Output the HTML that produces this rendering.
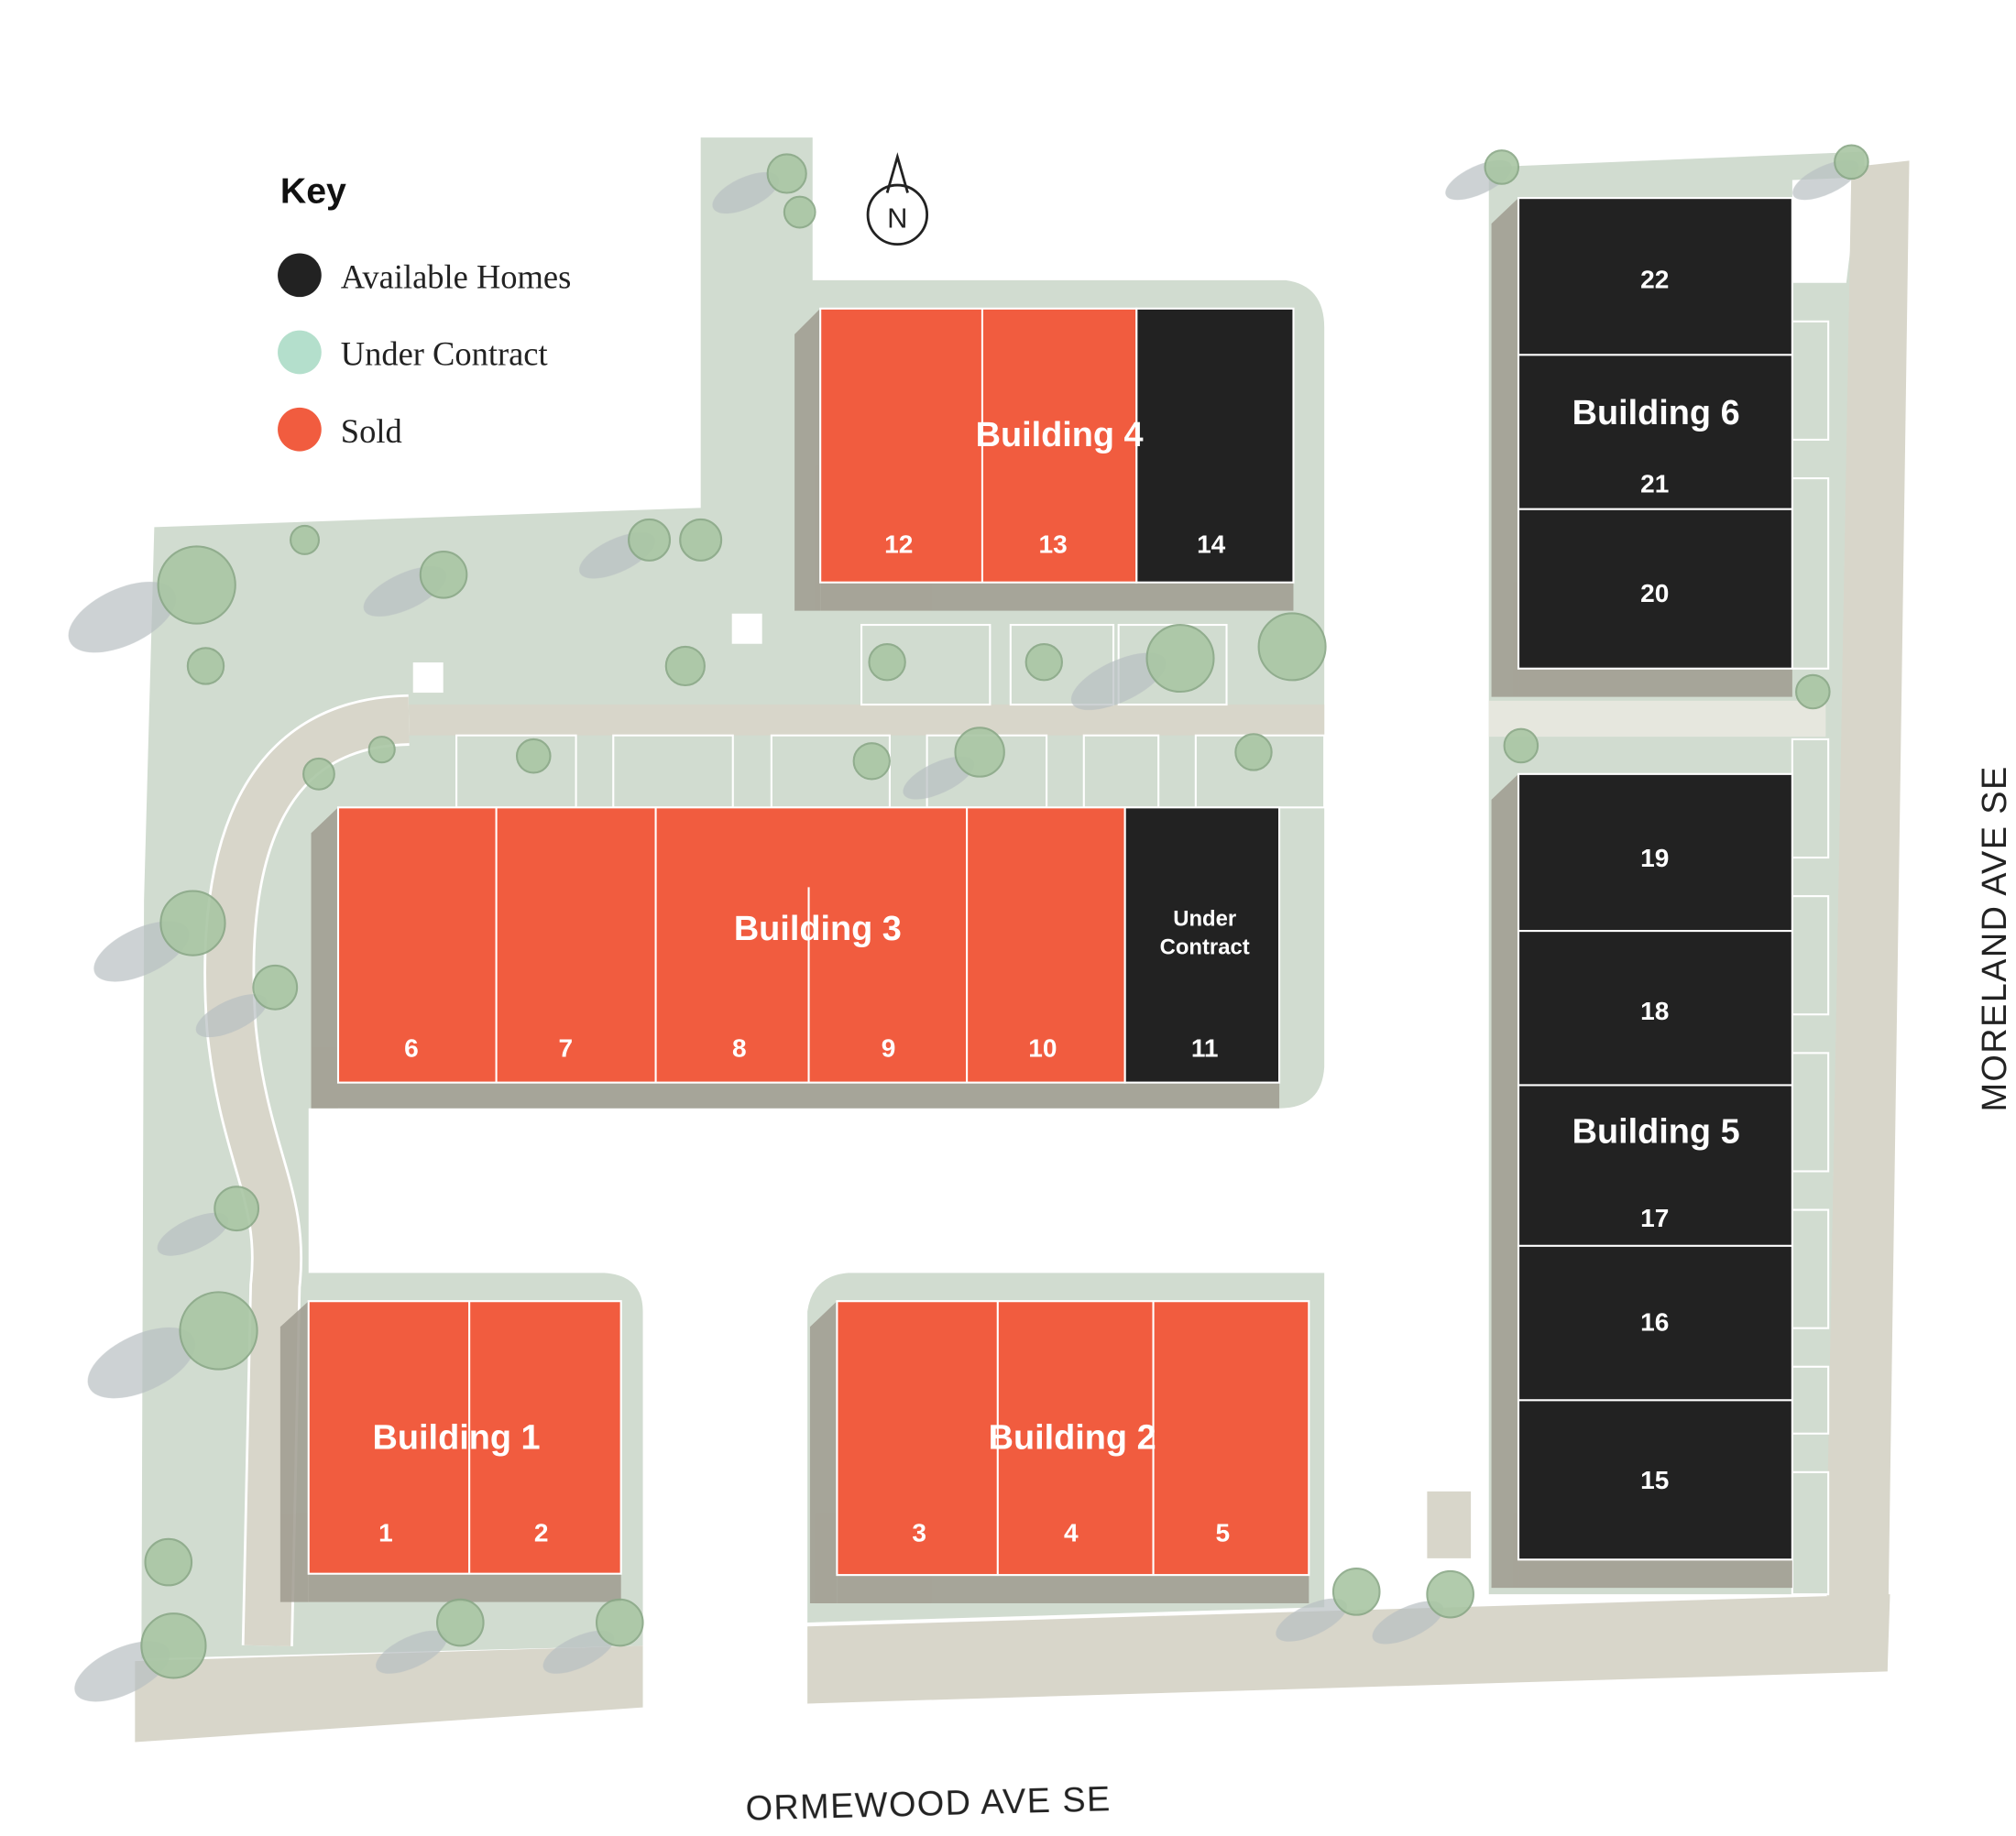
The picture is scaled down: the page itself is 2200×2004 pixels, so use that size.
<!DOCTYPE html>
<html><head><meta charset="utf-8"><style>
html,body{margin:0;padding:0;background:#fff}
svg{display:block}
.bl{font-family:"Liberation Sans",sans-serif;font-weight:bold;fill:#fff;font-size:27px;text-anchor:middle}
.nm{font-family:"Liberation Sans",sans-serif;font-weight:bold;fill:#fff;font-size:20px;text-anchor:middle}
.ky{font-family:"Liberation Serif",serif;font-size:26px;fill:#222}
.st{font-family:"Liberation Sans",sans-serif;font-size:27px;fill:#222;letter-spacing:1px}
</style></head><body>
<svg width="2200" height="2004" viewBox="0 0 1568 1428" preserveAspectRatio="none" xmlns="http://www.w3.org/2000/svg">
<rect width="1568" height="1428" fill="#fff"/>
<path d="M120,410 L545,395 L545,107 L632,107 L632,218 L1000,218 Q1030,222 1030,255 L1030,830 Q1028,862 995,862 L240,862 L240,990 L470,990 Q500,992 500,1020 L500,1280 L110,1290 L112,700 Z" fill="#d1dcd0"/>
<path d="M628,1020 Q632,992 660,990 L1030,990 L1030,1250 L628,1262 Z" fill="#d1dcd0"/>
<path d="M1158,130 L1450,118 L1440,1240 L1158,1240 Z" fill="#d1dcd0"/>
<path d="M1394,140 L1446,138 L1436,220 L1394,220 Z" fill="#fff"/>
<rect x="1158" y="545" width="262" height="28" fill="#e6e7de"/>
<path d="M105,1292 L500,1280 L500,1328 L105,1355 Z" fill="#d8d6ca"/>
<path d="M628,1265 L1470,1240 L1468,1300 L628,1325 Z" fill="#d8d6ca"/>
<path d="M1420,1240 L1440,130 L1485,125 L1468,1300 Z" fill="#d8d6ca"/>
<rect x="1110" y="1160" width="34" height="52" fill="#d8d6ca"/>
<path d="M318,548 L1030,548 L1030,572 L318,572 Z" fill="#d8d6ca"/>
<path d="M318,560 C205,562 170,660 180,800 C190,900 222,930 214,1000 L208,1280" fill="none" stroke="#fff" stroke-width="40"/>
<path d="M318,560 C205,562 170,660 180,800 C190,900 222,930 214,1000 L208,1280" fill="none" stroke="#d8d6ca" stroke-width="36"/>
<g fill="#d1dcd0" stroke="#fff" stroke-width="1.5">
<rect x="355" y="572" width="93" height="56"/><rect x="477" y="572" width="93" height="56"/><rect x="600" y="572" width="92" height="56"/><rect x="721" y="572" width="93" height="56"/><rect x="843" y="572" width="58" height="56"/><rect x="930" y="572" width="100" height="56"/>
<rect x="670" y="486" width="100" height="62"/><rect x="786" y="486" width="80" height="62"/><rect x="870" y="486" width="84" height="62"/>
<rect x="1394" y="250" width="28" height="92"/><rect x="1394" y="372" width="28" height="148"/><rect x="1394" y="575" width="28" height="92"/><rect x="1394" y="697" width="28" height="92"/><rect x="1394" y="819" width="28" height="92"/><rect x="1394" y="941" width="28" height="92"/><rect x="1394" y="1063" width="28" height="52"/><rect x="1394" y="1145" width="28" height="95"/>
<rect x="570" y="478" width="22" height="22" fill="#fff"/><rect x="322" y="516" width="22" height="22" fill="#fff"/>
</g>
<g fill="#9f9b8f" opacity=".85">
<path d="M618,260 L638,240 L638,475 L618,475 Z"/><rect x="638" y="453" width="368" height="22"/>
<path d="M242,648 L263,628 L263,862 L242,862 Z"/><rect x="263" y="842" width="732" height="20"/>
<path d="M218,1032 L240,1012 L240,1246 L218,1246 Z"/><rect x="240" y="1224" width="243" height="22"/>
<path d="M630,1032 L651,1012 L651,1247 L630,1247 Z"/><rect x="651" y="1225" width="367" height="22"/>
<path d="M1160,174 L1181,154 L1181,542 L1160,542 Z"/><rect x="1181" y="520" width="213" height="22"/>
<path d="M1160,622 L1181,602 L1181,1235 L1160,1235 Z"/><rect x="1181" y="1213" width="213" height="22"/>
</g>
<g stroke="#fff" stroke-width="1.5">
<rect x="638" y="240" width="246" height="213" fill="#f15c3f"/><rect x="884" y="240" width="122" height="213" fill="#222"/>
<line x1="764" y1="240" x2="764" y2="453"/>
<rect x="263" y="628" width="612" height="214" fill="#f15c3f"/><rect x="875" y="628" width="120" height="214" fill="#222"/>
<line x1="386" y1="628" x2="386" y2="842"/><line x1="510" y1="628" x2="510" y2="842"/><line x1="629" y1="690" x2="629" y2="842"/><line x1="752" y1="628" x2="752" y2="842"/>
<rect x="240" y="1012" width="243" height="212" fill="#f15c3f"/><line x1="365" y1="1012" x2="365" y2="1224"/>
<rect x="651" y="1012" width="367" height="213" fill="#f15c3f"/><line x1="776" y1="1012" x2="776" y2="1225"/><line x1="897" y1="1012" x2="897" y2="1225"/>
<rect x="1181" y="154" width="213" height="366" fill="#222"/><line x1="1181" y1="276" x2="1394" y2="276"/><line x1="1181" y1="396" x2="1394" y2="396"/>
<rect x="1181" y="602" width="213" height="611" fill="#222"/><line x1="1181" y1="724" x2="1394" y2="724"/><line x1="1181" y1="844" x2="1394" y2="844"/><line x1="1181" y1="969" x2="1394" y2="969"/><line x1="1181" y1="1089" x2="1394" y2="1089"/>
</g>
<g>
<g fill="#b8bfc2" opacity=".7">
<ellipse cx="95" cy="480" rx="45" ry="22" transform="rotate(-25 95 480)"/><ellipse cx="110" cy="740" rx="40" ry="18" transform="rotate(-25 110 740)"/><ellipse cx="110" cy="1060" rx="45" ry="22" transform="rotate(-25 110 1060)"/><ellipse cx="95" cy="1300" rx="40" ry="18" transform="rotate(-25 95 1300)"/><ellipse cx="315" cy="460" rx="35" ry="14" transform="rotate(-25 315 460)"/><ellipse cx="480" cy="432" rx="32" ry="13" transform="rotate(-25 480 432)"/><ellipse cx="580" cy="150" rx="28" ry="12" transform="rotate(-25 580 150)"/><ellipse cx="870" cy="530" rx="40" ry="16" transform="rotate(-25 870 530)"/><ellipse cx="1020" cy="1260" rx="30" ry="12" transform="rotate(-25 1020 1260)"/><ellipse cx="1095" cy="1262" rx="30" ry="12" transform="rotate(-25 1095 1262)"/><ellipse cx="730" cy="605" rx="30" ry="12" transform="rotate(-25 730 605)"/><ellipse cx="180" cy="790" rx="30" ry="12" transform="rotate(-25 180 790)"/><ellipse cx="150" cy="960" rx="30" ry="12" transform="rotate(-25 150 960)"/><ellipse cx="320" cy="1285" rx="30" ry="12" transform="rotate(-25 320 1285)"/><ellipse cx="450" cy="1285" rx="30" ry="12" transform="rotate(-25 450 1285)"/><ellipse cx="1150" cy="140" rx="28" ry="11" transform="rotate(-25 1150 140)"/><ellipse cx="1420" cy="140" rx="28" ry="11" transform="rotate(-25 1420 140)"/>
</g>
<g fill="#a9c6a4" stroke="#8aa887" stroke-width="1.5" opacity=".9">
<circle cx="153" cy="455" r="30"/><circle cx="150" cy="718" r="25"/><circle cx="170" cy="1035" r="30"/><circle cx="135" cy="1280" r="25"/><circle cx="345" cy="447" r="18"/><circle cx="505" cy="420" r="16"/><circle cx="545" cy="420" r="16"/><circle cx="612" cy="135" r="15"/><circle cx="622" cy="165" r="12"/><circle cx="918" cy="512" r="26"/><circle cx="1005" cy="503" r="26"/><circle cx="1055" cy="1238" r="18"/><circle cx="1128" cy="1240" r="18"/><circle cx="762" cy="585" r="19"/><circle cx="214" cy="768" r="17"/><circle cx="184" cy="940" r="17"/><circle cx="358" cy="1262" r="18"/><circle cx="482" cy="1262" r="18"/><circle cx="160" cy="518" r="14"/><circle cx="533" cy="518" r="15"/><circle cx="690" cy="515" r="14"/><circle cx="812" cy="515" r="14"/><circle cx="1168" cy="130" r="13"/><circle cx="1440" cy="126" r="13"/><circle cx="1410" cy="538" r="13"/><circle cx="1183" cy="580" r="13"/><circle cx="975" cy="585" r="14"/><circle cx="678" cy="592" r="14"/><circle cx="415" cy="588" r="13"/><circle cx="248" cy="602" r="12"/><circle cx="297" cy="583" r="10"/><circle cx="237" cy="420" r="11"/><circle cx="131" cy="1215" r="18"/>
</g>
</g>
<text class="bl" x="824" y="347">Building 4</text>
<text class="nm" x="699" y="430">12</text><text class="nm" x="819" y="430">13</text><text class="nm" x="942" y="430">14</text>
<text class="bl" x="636" y="731">Building 3</text>
<text class="nm" x="320" y="822">6</text><text class="nm" x="440" y="822">7</text><text class="nm" x="575" y="822">8</text><text class="nm" x="691" y="822">9</text><text class="nm" x="811" y="822">10</text><text class="nm" x="937" y="822">11</text>
<text class="nm" x="937" y="720" style="font-size:17px">Under</text><text class="nm" x="937" y="742" style="font-size:17px">Contract</text>
<text class="bl" x="355" y="1127">Building 1</text><text class="nm" x="300" y="1199">1</text><text class="nm" x="421" y="1199">2</text>
<text class="bl" x="834" y="1127">Building 2</text><text class="nm" x="715" y="1199">3</text><text class="nm" x="833" y="1199">4</text><text class="nm" x="951" y="1199">5</text>
<text class="nm" x="1287" y="224">22</text><text class="bl" x="1288" y="330">Building 6</text><text class="nm" x="1287" y="383">21</text><text class="nm" x="1287" y="468">20</text>
<text class="nm" x="1287" y="674">19</text><text class="nm" x="1287" y="793">18</text><text class="bl" x="1288" y="889">Building 5</text><text class="nm" x="1287" y="954">17</text><text class="nm" x="1287" y="1035">16</text><text class="nm" x="1287" y="1158">15</text>
<text x="218" y="158" style="font-family:'Liberation Sans',sans-serif;font-weight:bold;font-size:28px;fill:#111">Key</text>
<circle cx="233" cy="214" r="17" fill="#222"/><text class="ky" x="265" y="224">Available Homes</text>
<circle cx="233" cy="274" r="17" fill="#b4dfcc"/><text class="ky" x="265" y="284">Under Contract</text>
<circle cx="233" cy="334" r="17" fill="#f15c3f"/><text class="ky" x="265" y="344">Sold</text>
<circle cx="698" cy="167" r="23" fill="#fff" stroke="#222" stroke-width="2"/>
<path d="M690,150 L698,122 L706,150" fill="none" stroke="#222" stroke-width="2"/>
<text x="698" y="177" text-anchor="middle" style="font-family:'Liberation Sans',sans-serif;font-size:22px;fill:#222">N</text>
<text class="st" x="722" y="1412" text-anchor="middle" transform="rotate(-1.5 722 1400)">ORMEWOOD AVE SE</text>
<text class="st" x="0" y="0" text-anchor="middle" transform="translate(1560,730) rotate(-90)">MORELAND AVE SE</text>
</svg>
</body></html>
